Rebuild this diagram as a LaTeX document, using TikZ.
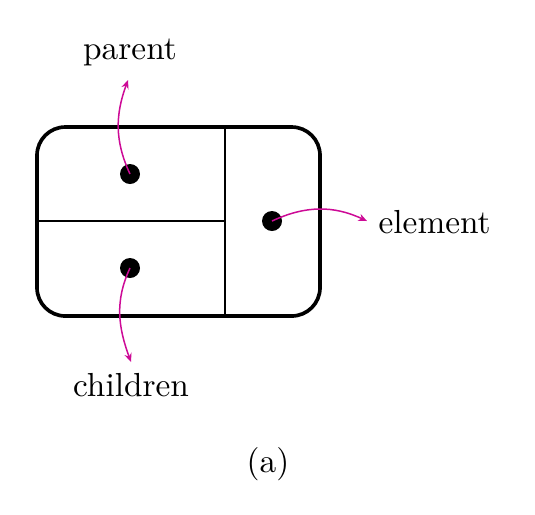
\documentclass[tikz,border=0pt]{standalone}
\usetikzlibrary{arrows.meta}
\definecolor{arrowpink}{RGB}{205,10,150}
\begin{document}
\begin{tikzpicture}[x=0.3pt,y=-0.3pt,
  dot/.style={circle,fill=black,inner sep=0pt,minimum size=6pt},
  ptr/.style={arrowpink,line width=0.45pt,-{Stealth[length=2.6pt,width=2.2pt]}},
  lbl/.style={inner sep=0pt,font=\normalsize}]
\useasboundingbox (0,0) rectangle (535,514);
% box
\draw[line width=1.1pt,rounded corners=8.5pt] (37,127) rectangle (320,316);
\draw[line width=0.4pt] (225,127) -- (225,316);
\draw[line width=0.4pt] (37,221) -- (225,221);
% dots
\node[dot] (p) at (130,174) {};
\node[dot] (c) at (130,268) {};
\node[dot] (e) at (272,221) {};
% labels
\node[lbl] (lp) at (130,52) {parent};
\node[lbl] (lc) at (131,385) {children};
\node[lbl,anchor=west] (le) at (378,222) {element};
\node[lbl] (la) at (268,464) {(a)};
% arrow ends
\coordinate (pe) at (128,80);
\coordinate (ce) at (131,362);
\coordinate (ee) at (367,221);
\draw[ptr] (p.center) to[out=115,in=-110] (pe);
\draw[ptr] (c.center) to[out=-115,in=110] (ce);
\draw[ptr] (e.center) to[out=25,in=155] (ee);
\end{tikzpicture}
\end{document}
